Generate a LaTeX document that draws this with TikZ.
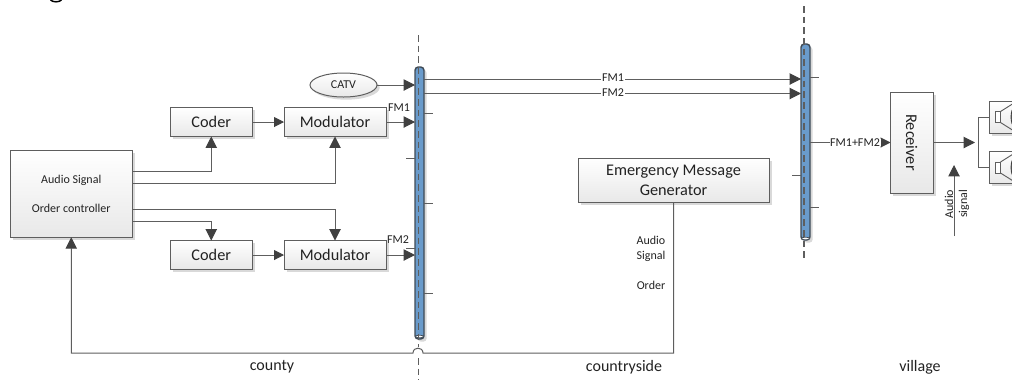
\documentclass[tikz,border=0pt]{standalone}
\usepackage{fontspec}
\setmainfont{Carlito}
\usetikzlibrary{arrows.meta,shapes.geometric,shadows}
\definecolor{linec}{HTML}{5E5E5E}
\definecolor{tipc}{HTML}{404040}
\definecolor{busc}{HTML}{6A9BCB}
\definecolor{busl}{HTML}{3F4A55}
\definecolor{txtc}{HTML}{222222}
\tikzset{
  sz/.style 2 args={minimum width=#1*.75pt,minimum height=#2*.75pt},
  softshadow/.style={drop shadow={shadow xshift=2pt,shadow yshift=-2pt,fill=black,opacity=.15}},
  blockbox/.style={draw=linec,line width=.75pt,top color=white,bottom color=black!9,inner sep=0pt,outer sep=0pt,align=center,text=txtc,softshadow,font=\fontsize{12.2}{15}\selectfont},
  busbar/.style={draw=busl,line width=1.1pt,fill=busc,rounded corners=2.5pt,inner sep=0pt,outer sep=0pt,softshadow},
  conn/.style={draw=linec,line width=.75pt,-{Triangle[length=8.6pt,width=8.6pt,color=tipc]}},
  smallconn/.style={draw=linec,line width=.75pt,-{Triangle[length=7.5pt,width=7.5pt,color=tipc]}},
  plainline/.style={draw=linec,line width=.75pt},
  boundary/.style={draw=linec,line width=.85pt,dash pattern=on 5pt off 3pt},
  tick/.style={draw=linec,line width=.7pt},
  lab/.style={inner sep=0pt,outer sep=0pt,text=txtc,font=\fontsize{9}{11.25}\selectfont,align=center},
  biglab/.style={inner sep=0pt,outer sep=0pt,text=txtc,font=\fontsize{12}{15}\selectfont},
  linelab/.style={lab,fill=white,inner xsep=.5pt},
}
\begin{document}
\begin{tikzpicture}[x=.75pt,y=-.75pt]
\useasboundingbox (0,0) rectangle (1012,380);
\clip (0,0) rectangle (1012,380);
% clipped descender at the top edge
\draw[black,line width=1.1pt] (50.5,0) .. controls (53,2.4) and (59,2.4) .. (61.5,0);

% boxes
\node[blockbox,sz={121.5}{86.5},font=\fontsize{9}{11}\selectfont] (audio) at (71.25,194) {Audio Signal\\[11pt]Order controller};
\node[blockbox,sz={81.5}{29}] (coder1) at (211.25,122) {Coder};
\node[blockbox,sz={102}{29}] (mod1) at (335,122) {Modulator};
\node[blockbox,sz={81.5}{29}] (coder2) at (211.25,255) {Coder};
\node[blockbox,sz={102}{29}] (mod2) at (335,255) {Modulator};
\node[draw=linec,line width=.75pt,ellipse,top color=white,bottom color=black!9,softshadow,inner sep=0pt,outer sep=0pt,sz={67}{24},lab] (catv) at (343.5,85) {CATV};
\node[blockbox,sz={191}{44}] (emg) at (673.5,180) {Emergency Message\\Generator};
\node[blockbox,sz={42.5}{101}] (recv) at (911.75,142.5) {\rotatebox{-90}{Receiver}};

% buses and boundaries
\node[busbar,sz={9}{272}] (bus1) at (419.5,203) {};
\node[busbar,sz={9}{196}] (bus2) at (805.5,142) {};
\draw[fill=white,draw=busl,line width=.5pt] (419.5,336.5) ellipse (3pt and 1pt);
\draw[fill=white,draw=busl,line width=.5pt] (805.5,238.5) ellipse (3pt and 1pt);
\draw[boundary] (418.5,35) -- (418.5,347);
\draw[boundary] (418.5,358) -- (418.5,380);
\draw[boundary] (804,6) -- (804,258);

% bus ticks
\draw[tick] (424,113) -- (433,113);
\draw[tick] (406,158) -- (415,158);
\draw[tick] (424,203) -- (433,203);
\draw[tick] (406,248) -- (415,248);
\draw[tick] (424,293) -- (433,293);
\draw[tick] (810,77) -- (819,77);
\draw[tick] (792,175) -- (801,175);
\draw[tick] (810,207) -- (819,207);

% port coordinates
\coordinate (a1) at (132,171);
\coordinate (a2) at (132,183);
\coordinate (a3) at (132,209);
\coordinate (a4) at (132,221);
\coordinate (f1) at (424,79);
\coordinate (f2) at (424,93.5);
\coordinate (fb) at (423,353);
\coordinate (fc) at (413,353);

% connectors
\draw[conn] (catv.east) -- (catv.east -| bus1.west);
\draw[smallconn] (coder1.east) -- (mod1.west);
\draw[smallconn] (coder2.east) -- (mod2.west);
\draw[conn] (mod1.east) -- (mod1.east -| bus1.west);
\draw[conn] (mod2.east) -- (mod2.east -| bus1.west);
\draw[conn] (a1) -| (coder1.south);
\draw[conn] (a2) -| (mod1.south);
\draw[conn] (a3) -| (mod2.north);
\draw[conn] (a4) -| (coder2.north);
\draw[conn] (f1) -- (f1 -| bus2.west);
\draw[conn] (f2) -- (f2 -| bus2.west);
\draw[conn] (emg.south) |- (fb) .. controls (423,346.5) and (413,346.5) .. (fc) -| (audio.south);
\draw[smallconn] (recv.west -| bus2.east) -- (recv.west);
\coordinate (spk) at (975,142.5);
\draw[conn] (recv.east) -- (spk);

% audio signal arrow
\coordinate (as0) at (954,236);
\coordinate (as1) at (954,165);
\draw[conn] (as0) -- (as1);

% speakers
\node[blockbox,sz={40}{32}] (spk1) at (1009,117) {};
\node[blockbox,sz={40}{32}] (spk2) at (1009,167.5) {};
\coordinate (sb) at (978,142.5);
\draw[plainline] (spk1.west) -| (sb) |- (spk2.west);
\foreach \yy in {117,167.5}{
  \draw[linec,line width=.7pt,fill=white] (995,\yy-5.5) rectangle (1000.5,\yy+5.5);
  \draw[linec,line width=.7pt] (1000.5,\yy-5.5) -- (1014,\yy-14);
  \draw[linec,line width=.7pt] (1000.5,\yy+5.5) -- (1014,\yy+14);
  \draw[tipc,line width=.7pt,fill=black!55] (1014,\yy) ellipse (2.2pt and 6.5pt);
}

% labels
\node[lab] (lf1a) at (399,108) {FM1};
\node[lab] (lf2a) at (398,240) {FM2};
\node[linelab] (lf1) at (613,78) {FM1};
\node[linelab] (lf2) at (613,93) {FM2};
\node[linelab] (lsum) at (855,142.5) {FM1+FM2};
\node[lab] (lem) at (651,262.5) {Audio\\Signal\\[11.25pt]Order};
\node[lab,rotate=90] (las) at (949,204) {Audio};
\node[lab,rotate=90] (lsg) at (964,204) {signal};
\node[biglab] (lc1) at (272,367) {county};
\node[biglab] (lc2) at (624,367) {countryside};
\node[biglab] (lc3) at (920,367) {village};
\end{tikzpicture}
\end{document}
